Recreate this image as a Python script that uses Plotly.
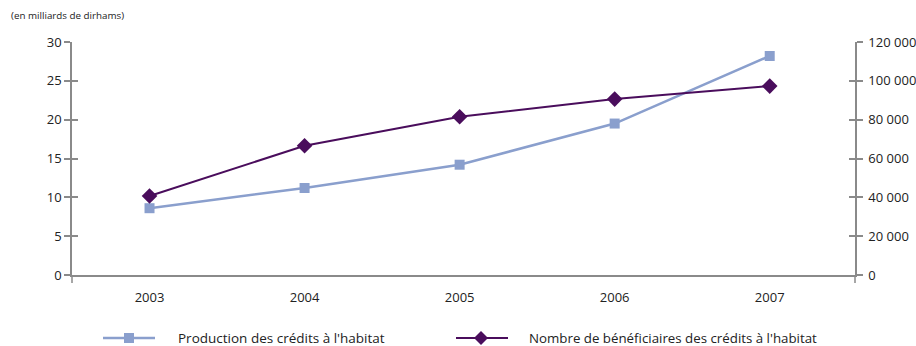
import plotly.graph_objects as go

# Years and series
years = ["2003", "2004", "2005", "2006", "2007"]
production = [8.6, 11.2, 14.2, 19.5, 28.2]            # milliards de dirhams
beneficiaires = [40700, 66600, 81500, 90600, 97300]     # nombre de bénéficiaires

left_ticks = [0, 5, 10, 15, 20, 25, 30]
right_ticks = [0, 20000, 40000, 60000, 80000, 100000, 120000]
right_labels = ["0", "20 000", "40 000", "60 000", "80 000", "100 000", "120 000"]

name_prod = "Production des crédits à l'habitat"
name_benef = "Nombre de bénéficiaires des crédits à l'habitat"

W, H = 916, 346
ML, MR, MT, MB = 72, 61, 42, 71
PW, PH = W - ML - MR, H - MT - MB

C_PROD = "#8a9fcd"
C_BENEF = "#4a0d5c"
C_AXIS = "#8a8a8a"
C_TEXT = "#222222"
FONT = "Open Sans"


def px(xp):
    return (xp - ML) / PW


def py(yp):
    return (H - MB - yp) / PH


fig = go.Figure()

fig.add_trace(go.Scatter(
    x=years, y=production, name=name_prod, mode="lines+markers",
    line=dict(color=C_PROD, width=2.5),
    marker=dict(symbol="square", size=10, color=C_PROD),
    yaxis="y", showlegend=False,
))
fig.add_trace(go.Scatter(
    x=years, y=beneficiaires, name=name_benef, mode="lines+markers",
    line=dict(color=C_BENEF, width=2),
    marker=dict(symbol="diamond", size=12, color=C_BENEF),
    yaxis="y2", showlegend=False,
))

tickfont = dict(family=FONT, size=13, color=C_TEXT)

fig.update_layout(
    width=W, height=H,
    margin=dict(l=ML, r=MR, t=MT, b=MB, autoexpand=False),
    paper_bgcolor="white", plot_bgcolor="white",
    font=dict(family=FONT, color=C_TEXT),
    xaxis=dict(
        type="category", range=[-0.5, 4.55], automargin=False,
        showgrid=False, zeroline=False,
        showline=True, linecolor=C_AXIS, linewidth=1.5,
        ticks="", tickfont=tickfont, ticklabelstandoff=10,
    ),
    yaxis=dict(
        range=[0, 30], tickvals=left_ticks, automargin=False,
        showgrid=False, zeroline=False,
        showline=True, linecolor=C_AXIS, linewidth=1.5,
        ticks="outside", ticklen=6, tickwidth=1.5, tickcolor=C_AXIS,
        tickfont=tickfont,
    ),
    yaxis2=dict(
        range=[0, 120000], tickvals=right_ticks, ticktext=right_labels,
        overlaying="y", side="right", automargin=False,
        showgrid=False, zeroline=False,
        showline=True, linecolor=C_AXIS, linewidth=1.5,
        ticks="outside", ticklen=6, tickwidth=1.5, tickcolor=C_AXIS,
        tickfont=tickfont, ticklabelstandoff=3,
    ),
    # inner halves of the crossing ticks
    yaxis3=dict(
        range=[0, 30], tickvals=left_ticks, overlaying="y", side="left",
        automargin=False,
        showgrid=False, zeroline=False, showline=False,
        ticks="inside", ticklen=6, tickwidth=1.5, tickcolor=C_AXIS,
        showticklabels=False,
    ),
    yaxis4=dict(
        range=[0, 120000], tickvals=right_ticks, overlaying="y", side="right",
        automargin=False,
        showgrid=False, zeroline=False, showline=False,
        ticks="inside", ticklen=6, tickwidth=1.5, tickcolor=C_AXIS,
        showticklabels=False,
    ),
    showlegend=False,
)

# invisible traces to attach the extra tick axes
fig.add_trace(go.Scatter(x=[years[0]], y=[None], yaxis="y3", showlegend=False, hoverinfo="skip"))
fig.add_trace(go.Scatter(x=[years[0]], y=[None], yaxis="y4", showlegend=False, hoverinfo="skip"))

shapes = []
annotations = []

# unit caption above the left axis
annotations.append(dict(
    text="(en milliards de dirhams)", xref="paper", yref="paper",
    x=px(9), y=py(15), xanchor="left", yanchor="middle", showarrow=False,
    font=dict(family=FONT, size=9.8, color=C_TEXT),
))

# short downward extensions of the axis lines below the baseline
for xp in (ML, W - MR):
    shapes.append(dict(type="line", xref="paper", yref="paper",
                       x0=px(xp), x1=px(xp), y0=py(H - MB), y1=py(H - MB + 8),
                       line=dict(color=C_AXIS, width=1.5)))

# legend
LY = 338
shapes.append(dict(type="line", xref="paper", yref="paper",
                   x0=px(103), x1=px(155), y0=py(LY), y1=py(LY),
                   line=dict(color=C_PROD, width=2.5)))
shapes.append(dict(type="rect", xref="paper", yref="paper",
                   xsizemode="pixel", ysizemode="pixel",
                   xanchor=px(129), yanchor=py(LY),
                   x0=-5, x1=5, y0=-5, y1=5,
                   fillcolor=C_PROD, line=dict(width=0)))
annotations.append(dict(
    text=name_prod, xref="paper", yref="paper", x=px(176), y=py(LY),
    xanchor="left", yanchor="middle", showarrow=False,
    font=dict(family=FONT, size=13.5, color=C_TEXT),
))

shapes.append(dict(type="line", xref="paper", yref="paper",
                   x0=px(456), x1=px(508), y0=py(LY), y1=py(LY),
                   line=dict(color=C_BENEF, width=2)))
shapes.append(dict(type="path", xref="paper", yref="paper",
                   xsizemode="pixel", ysizemode="pixel",
                   xanchor=px(481), yanchor=py(LY),
                   path="M -7 0 L 0 7 L 7 0 L 0 -7 Z",
                   fillcolor=C_BENEF, line=dict(width=0)))
annotations.append(dict(
    text=name_benef, xref="paper", yref="paper", x=px(527), y=py(LY),
    xanchor="left", yanchor="middle", showarrow=False,
    font=dict(family=FONT, size=13.3, color=C_TEXT),
))

fig.update_layout(shapes=shapes, annotations=annotations)

fig.write_html("out.html")
